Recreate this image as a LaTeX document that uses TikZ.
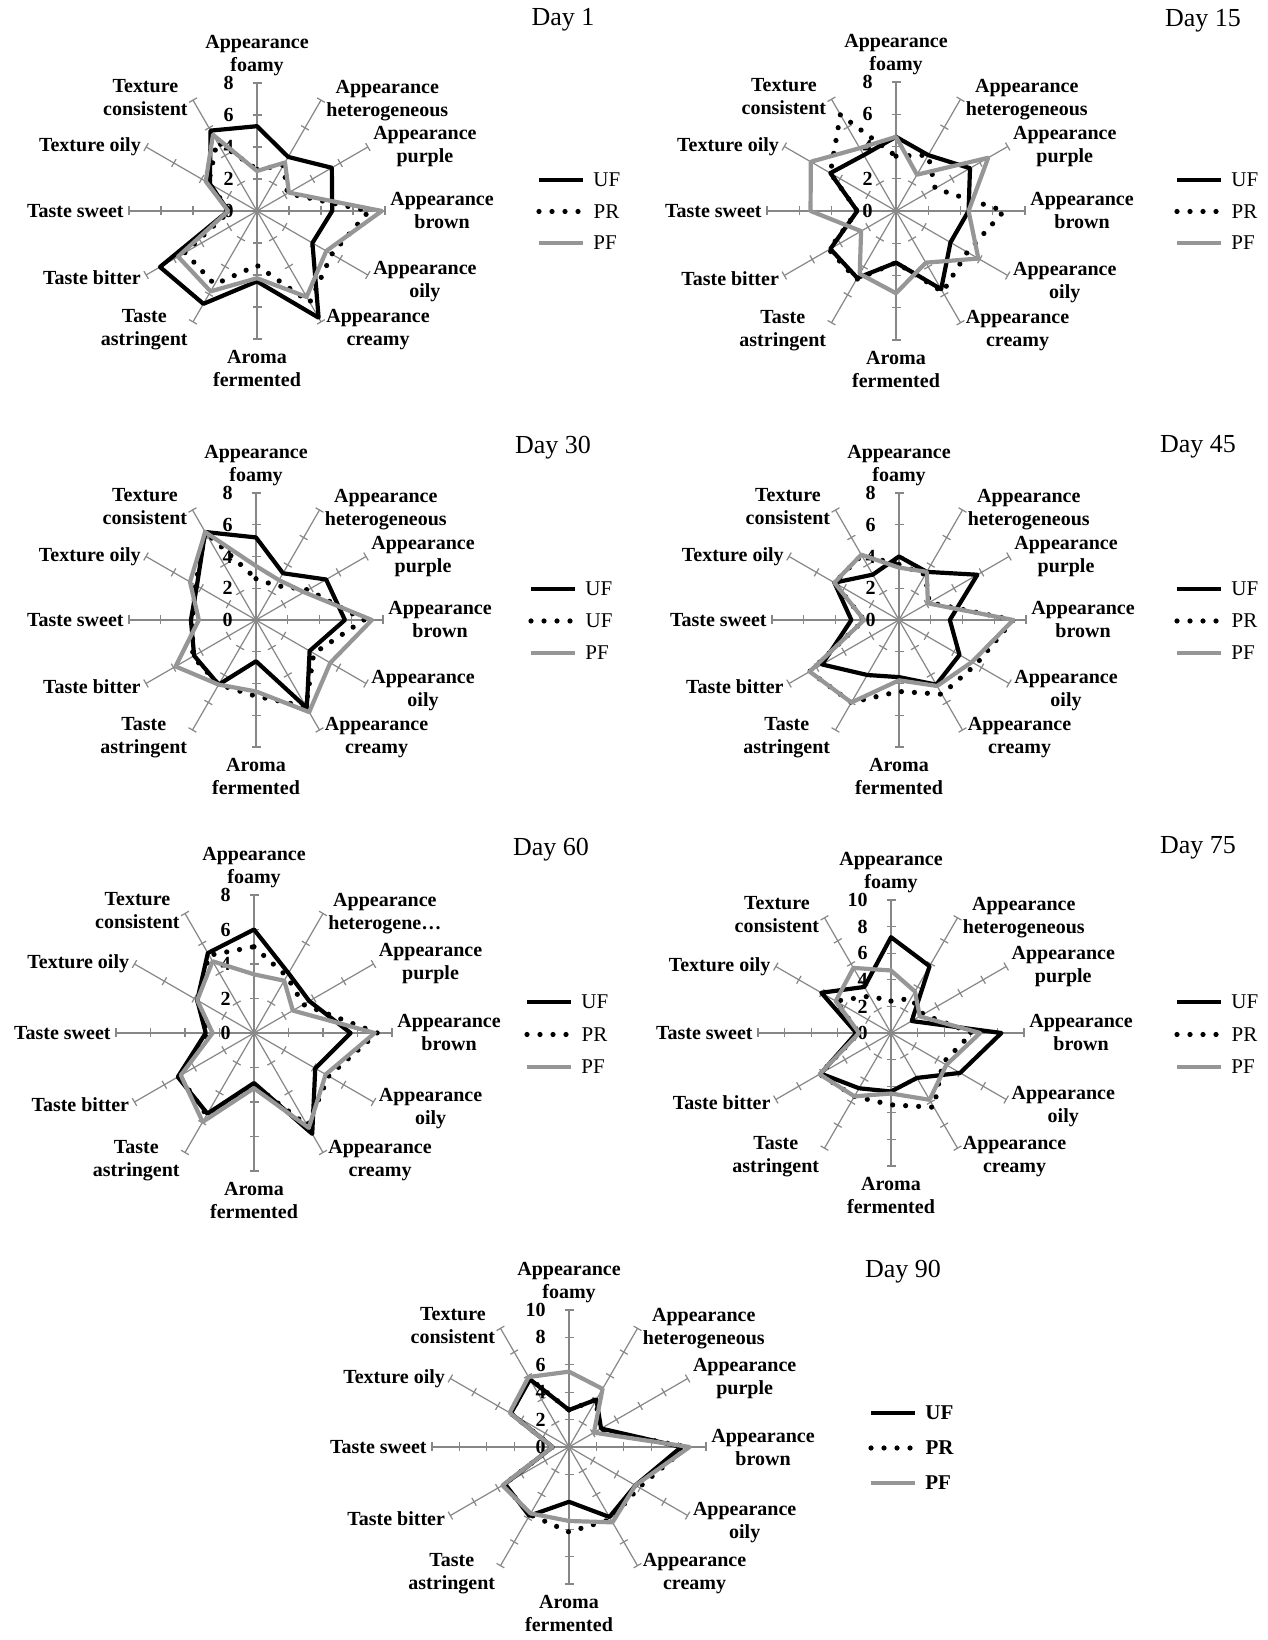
\documentclass[tikz,border=0pt]{standalone}
\usepackage{fontspec}
\setmainfont{Liberation Serif}
\usetikzlibrary{calc,positioning}

\definecolor{axisgray}{RGB}{135,135,135}
\definecolor{seriesgray}{RGB}{150,150,150}

% radar chart: name, centre x, centre y (from top), radius, top value, UF, PR, PF, 2nd label
\newcommand{\spider}[9]{%
  \coordinate (#1-c) at (#2,{1640-#3});
  \pgfmathtruncatemacro{\nt}{#5/2}
  \foreach \i in {1,...,12}{
    \pgfmathsetmacro{\ang}{120-30*\i}
    \coordinate (#1-a\i) at ($(#1-c)+(\ang:#4)$);
    \draw[spoke] (#1-c) -- (#1-a\i);
    \foreach \k in {1,...,\nt}
      \draw[spoke] ($(#1-c)+(\ang:{2*\k*#4/#5})+({\ang+90}:4.5)$) -- ($(#1-c)+(\ang:{2*\k*#4/#5})+({\ang-90}:4.5)$);
  }
  \foreach \v in {0,2,...,#5}
    \node[vlab] (#1-v\v) at ($(#1-c)+(-23,{\v*#4/#5})$) {\v};
  \node[alab,anchor=south,yshift=2.5pt,inner sep=1pt] (#1-l1) at (#1-a1) {Appearance\\foamy};
  \node[alab,anchor=west]  (#1-l2)  at (#1-a2)  {#9};
  \node[alab,anchor=west]  (#1-l3)  at (#1-a3)  {Appearance\\purple};
  \node[alab,anchor=west]  (#1-l4)  at (#1-a4)  {Appearance\\brown};
  \node[alab,anchor=west,yshift=-3.5pt]  (#1-l5)  at (#1-a5)  {Appearance\\oily};
  \node[alab,anchor=west,yshift=-4pt]    (#1-l6)  at (#1-a6)  {Appearance\\creamy};
  \node[alab,anchor=north,yshift=-3pt]   (#1-l7)  at (#1-a7)  {Aroma\\fermented};
  \node[alab,anchor=east,yshift=-4pt]    (#1-l8)  at (#1-a8)  {Taste\\astringent};
  \node[alab,anchor=east,yshift=-1.5pt]  (#1-l9)  at (#1-a9)  {Taste bitter};
  \node[alab,anchor=east]  (#1-l10) at (#1-a10) {Taste sweet};
  \node[alab,anchor=east]  (#1-l11) at (#1-a11) {Texture oily};
  \node[alab,anchor=east,yshift=1.5pt]   (#1-l12) at (#1-a12) {Texture\\consistent};
  % the three samples
  \foreach \v [count=\i] in {#6}
    \coordinate (#1-uf\i) at ($(#1-c)+({120-30*\i}:{\v*#4/#5})$);
  \foreach \v [count=\i] in {#7}
    \coordinate (#1-pr\i) at ($(#1-c)+({120-30*\i}:{\v*#4/#5})$);
  \foreach \v [count=\i] in {#8}
    \coordinate (#1-pf\i) at ($(#1-c)+({120-30*\i}:{\v*#4/#5})$);
  \draw[ufline] (#1-uf1) \foreach \i in {2,...,12}{ -- (#1-uf\i)} -- cycle;
  \draw[prline] (#1-pr1) \foreach \i in {2,...,12}{ -- (#1-pr\i)} -- cycle;
  \draw[pfline] (#1-pf1) \foreach \i in {2,...,12}{ -- (#1-pf\i)} -- cycle;
}

% legend: name, x, y (from top), row gap, three labels, font switch
\newcommand{\spiderkey}[8]{%
  \coordinate (#1-k1) at (#2,{1640-#3});
  \coordinate (#1-k2) at (#2,{1640-#3-#4});
  \coordinate (#1-k3) at (#2,{1640-#3-2*#4});
  \draw[ufline,line width=2.4pt] (#1-k1) -- ++(44,0) node[keytext] (#1-t1) {#8#5};
  \draw[prline] (#1-k2) -- ++(44,0) node[keytext] (#1-t2) {#8#6};
  \draw[pfline,line width=2.4pt] (#1-k3) -- ++(44,0) node[keytext] (#1-t3) {#8#7};
}

\begin{document}
\begin{tikzpicture}[x=0.5pt, y=0.5pt,
    spoke/.style={draw=axisgray, line width=0.6pt},
    ufline/.style={draw=black, line width=2.1pt, line join=round},
    prline/.style={draw=black, line width=2.6pt, line cap=round, dash pattern=on 0pt off 6.5pt},
    pfline/.style={draw=seriesgray, line width=2.1pt, line join=round},
    alab/.style={font=\bfseries\fontsize{10}{11.5}\selectfont, align=center, inner sep=2.5pt},
    vlab/.style={font=\bfseries\fontsize{10}{11.5}\selectfont, anchor=east, inner sep=0pt},
    keytext/.style={font=\fontsize{10.5}{12}\selectfont, anchor=west, inner sep=4pt},
    daytitle/.style={font=\fontsize{13}{15}\selectfont, inner sep=0pt}]
\fill[white] (0,0) rectangle (1268,1640);
\useasboundingbox (0,0) rectangle (1268,1640);

% Day 1
\spider{d1}{257}{211}{128}{8}
  {5.3,3.9,5.4,4.7,4.0,7.7,4.4,6.7,7.0,1.8,3.4,5.8}
  {2.6,3.3,2.2,7.0,5.4,6.6,3.4,5.3,5.2,1.7,3.5,5.0}
  {2.5,3.5,2.3,7.8,5.0,6.2,4.2,5.8,5.7,1.8,3.7,5.5}
  {Appearance\\heterogeneous}
\spiderkey{d1}{539}{180}{31.5}{UF}{PR}{PF}{}
\node[daytitle] (d1-title) at (563,{1640-20}) {Day 1};

% Day 15
\spider{d15}{896}{211}{129}{8}
  {4.6,4.0,5.3,4.5,3.9,5.6,3.2,4.8,4.7,2.4,4.7,4.0}
  {3.4,4.0,2.8,6.7,5.1,5.8,3.2,4.9,4.8,2.4,4.7,6.9}
  {4.6,2.6,6.6,4.5,5.9,3.7,5.1,4.5,2.5,5.3,6.1,4.5}
  {Appearance\\heterogeneous}
\spiderkey{d15}{1177}{180}{31.5}{UF}{PR}{PF}{}
\node[daytitle] (d15-title) at (1203,{1640-21}) {Day 15};

% Day 30
\spider{d30}{256}{620}{127}{8}
  {5.2,3.4,5.1,5.6,3.9,6.4,2.6,4.7,4.5,4.1,4.3,6.4}
  {2.6,2.5,3.8,6.8,4.2,6.3,4.8,4.7,4.6,4.0,4.4,6.4}
  {3.4,2.9,3.5,7.3,5.4,6.7,4.5,4.7,5.85,3.6,4.8,6.4}
  {Appearance\\heterogeneous}
\spiderkey{d30}{531}{589}{32}{UF}{UF}{PF}{}
\node[daytitle] (d30-title) at (553,{1640-448}) {Day 30};

% Day 45
\spider{d45}{899}{620}{127}{8}
  {4.0,3.5,5.7,3.2,4.4,4.7,3.6,4.0,5.6,3.0,4.7,3.3}
  {3.5,3.3,2.2,7.2,5.6,5.4,4.5,6.0,6.5,2.2,4.7,4.7}
  {3.3,3.5,2.1,7.2,5.3,4.8,3.8,6.0,6.5,2.2,4.7,4.75}
  {Appearance\\heterogeneous}
\spiderkey{d45}{1177}{589}{32}{UF}{PR}{PF}{}
\node[daytitle] (d45-title) at (1198,{1640-447}) {Day 45};

% Day 60
\spider{d60}{254}{1033}{138}{8}
  {6.0,4.0,3.7,5.6,4.1,6.75,2.9,5.4,5.1,2.8,3.8,5.35}
  {5.0,3.8,3.3,7.15,5.0,6.2,3.0,5.5,5.0,2.6,3.8,5.2}
  {3.4,3.5,2.6,7.0,4.8,6.35,3.2,5.95,4.9,2.4,3.8,4.8}
  {Appearance\\heterogene\ldots}
\spiderkey{d60}{527}{1002}{32.5}{UF}{PR}{PF}{}
\node[daytitle] (d60-title) at (551,{1640-850}) {Day 60};

% Day 75
\spider{d75}{891}{1033}{133}{10}
  {7.2,5.8,1.8,8.3,6.0,3.9,4.4,4.8,6.1,2.6,6.05,4.0}
  {2.4,3.0,2.8,6.1,4.5,6.45,5.4,5.5,6.2,2.4,4.8,3.2}
  {4.7,3.6,2.5,6.7,4.8,5.8,4.55,5.5,6.2,2.4,4.8,5.65}
  {Appearance\\heterogeneous}
\spiderkey{d75}{1177}{1002}{32.5}{UF}{PR}{PF}{}
\node[daytitle] (d75-title) at (1198,{1640-848}) {Day 75};

% Day 90
\spider{d90}{569}{1447}{137}{10}
  {2.7,4.0,2.7,8.2,5.6,5.9,4.0,5.8,5.4,1.2,4.9,5.7}
  {2.7,4.0,2.5,8.6,5.9,6.1,6.2,5.7,5.5,1.2,4.9,5.8}
  {5.5,4.9,2.1,8.8,5.6,6.35,5.4,5.6,5.6,1.2,5.0,5.9}
  {Appearance\\heterogeneous}
\spiderkey{d90}{871}{1413}{35}{UF}{PR}{PF}{\bfseries}
\node[daytitle] (d90-title) at (903,{1640-1272}) {Day 90};
\end{tikzpicture}
\end{document}
